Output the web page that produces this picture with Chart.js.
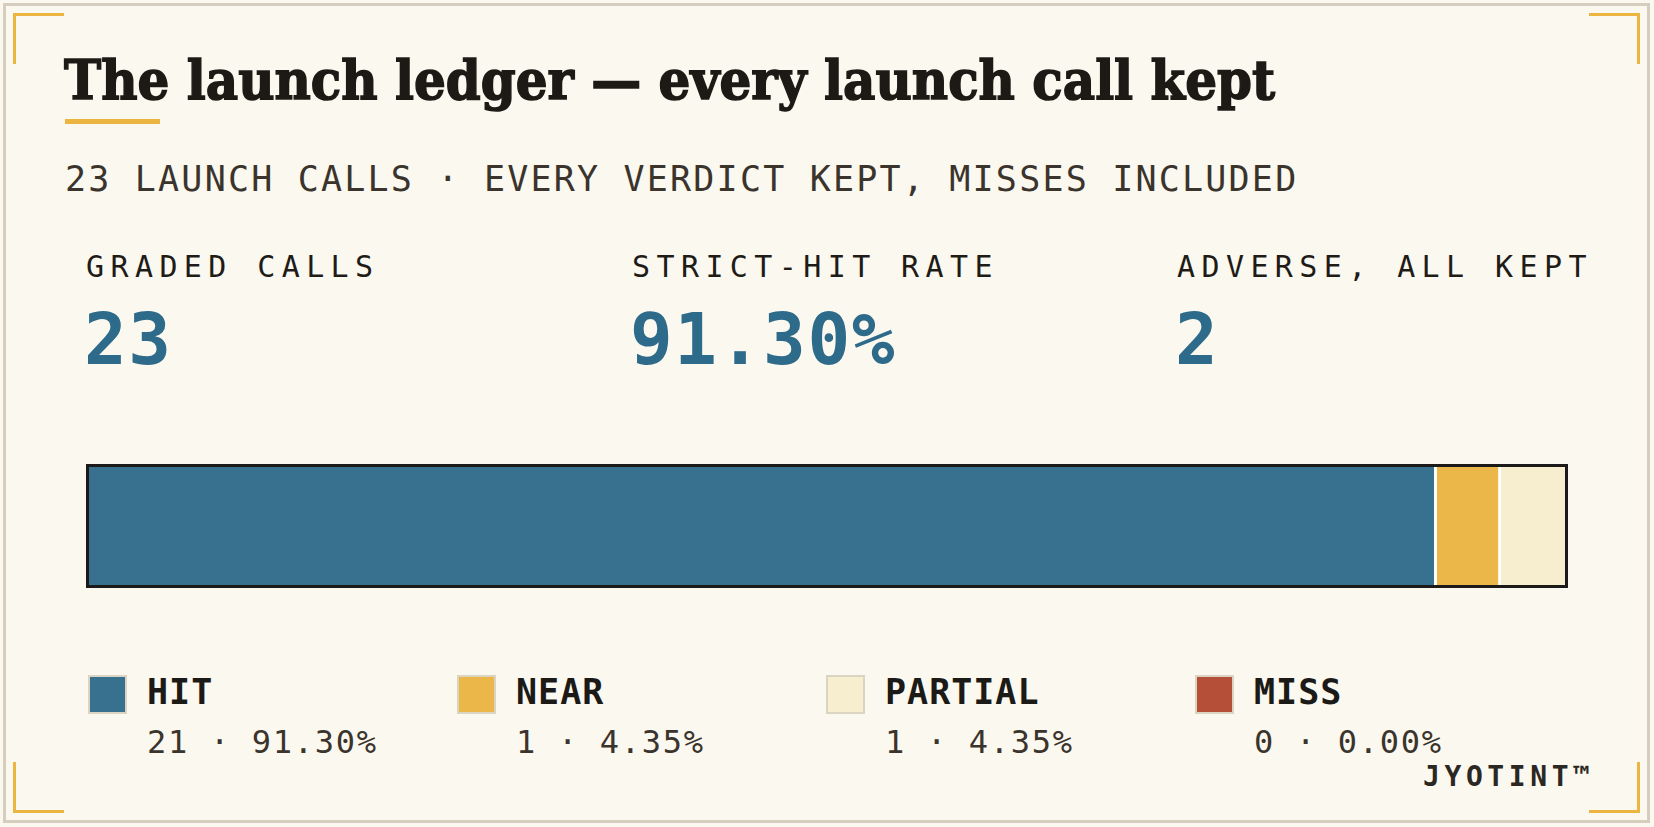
<!DOCTYPE html>
<html>
<head>
<meta charset="utf-8">
<title>The launch ledger</title>
<script src="https://cdn.jsdelivr.net/npm/chart.js@4.4.1/dist/chart.umd.min.js"></script>
<style>
    html, body { margin: 0; padding: 0; background: #fbf8ef; }
    #card { position: relative; width: 1654px; height: 827px; overflow: hidden; background: #fbf8ef; }
    .t { position: absolute; white-space: nowrap; line-height: 1; font-family: "DejaVu Sans Mono", monospace; }
    .frame { position: absolute; left: 3px; top: 3px; width: 1647px; height: 820px; box-sizing: border-box; border: 3px solid #d5cebf; }
    .br { position: absolute; width: 51px; height: 51px; box-sizing: border-box; border: 0 solid #ecb541; }
    .swatch { position: absolute; width: 39px; height: 39px; box-sizing: border-box; border: 2px solid #dcd4c2; }
    #bar-wrap { position: absolute; left: 86px; top: 464px; width: 1482px; height: 124px; }
</style>
</head>
<body>
<div id="card">
    <div class="frame"></div>
    <div class="br" style="left:13px;top:13px;border-top-width:3px;border-left-width:3px"></div>
    <div class="br" style="left:1589px;top:13px;border-top-width:3px;border-right-width:3px"></div>
    <div class="br" style="left:13px;top:762px;border-bottom-width:3px;border-left-width:3px"></div>
    <div class="br" style="left:1589px;top:762px;border-bottom-width:3px;border-right-width:3px"></div>
    <div style="position:absolute;left:65px;top:119px;width:95px;height:5px;background:#ecb541"></div>
    <div id="bar-wrap"><canvas id="ledgerBar" width="1482" height="124"></canvas></div>
</div>
<script>
// --- data ---
const title = 'The launch ledger \u2014 every launch call kept';
const subtitle = '23 LAUNCH CALLS \u00b7 EVERY VERDICT KEPT, MISSES INCLUDED';
const kpiLabels = ['GRADED CALLS', 'STRICT-HIT RATE', 'ADVERSE, ALL KEPT'];
const kpiValues = ['23', '91.30%', '2'];
const categories = ['HIT', 'NEAR', 'PARTIAL', 'MISS'];
const counts = [21, 1, 1, 0];
const percents = ['91.30%', '4.35%', '4.35%', '0.00%'];
const brand = 'JYOTINT\u2122';

const segColors = ['#37718f', '#ebb748', '#f7edcf', '#b64f37'];

const card = document.getElementById('card');

// put a text so its alphabetic baseline lands on y (DejaVu: ascent .928, descent .236)
function addText(str, x, baseline, size, opts) {
    opts = opts || {};
    const el = document.createElement('div');
    el.className = 't';
    el.textContent = str;
    el.style.left = x + 'px';
    el.style.top = (baseline - 0.846 * size) + 'px';
    el.style.fontSize = size + 'px';
    if (opts.family) el.style.fontFamily = opts.family;
    if (opts.bold) el.style.fontWeight = 'bold';
    if (opts.ls) el.style.letterSpacing = opts.ls + 'px';
    el.style.color = opts.color || '#1d1a16';
    card.appendChild(el);
    return el;
}

const titleEl = addText(title, 64, 99, 55, { family: '"DejaVu Serif", serif', bold: true, color: '#1d1a16' });
titleEl.style.webkitTextStroke = '1.6px #1d1a16';
titleEl.style.transformOrigin = '0 0';
// squeeze title to the width it has in the print
const w = titleEl.getBoundingClientRect().width;
titleEl.style.transform = 'scaleX(' + (1211 / w) + ')';

addText(subtitle, 65, 192, 35, { ls: 2.2, color: '#3a342d' });

const colX = [86, 632, 1177];
kpiLabels.forEach((lab, i) => {
    addText(lab, colX[i], 277, 30, { ls: 6.4, color: '#1f1b17' });
    addText(kpiValues[i], colX[i] - 2, 364, 71, { bold: true, ls: 1.6, color: '#2e6b8a' });
});

// legend
const total = counts.reduce((a, b) => a + b, 0);
const legX = [88, 457, 826, 1195];
categories.forEach((cat, i) => {
    const sw = document.createElement('div');
    sw.className = 'swatch';
    sw.style.left = legX[i] + 'px';
    sw.style.top = '675px';
    sw.style.background = segColors[i];
    card.appendChild(sw);
    addText(cat, legX[i] + 59, 705, 35, { bold: true, ls: 1, color: '#1c1a17' });
    addText(counts[i] + ' \u00b7 ' + percents[i], legX[i] + 59, 753, 32, { ls: 1.7, color: '#3a342d' });
});

addText(brand, 1423, 787, 28, { bold: true, ls: 4.6, color: '#2b2722' });

// --- stacked bar ---
const lastNonZero = counts.reduce((acc, v, i) => (v > 0 ? i : acc), 0);

const framePlugin = {
    id: 'frame',
    afterDraw(chart) {
        const ctx = chart.ctx;
        ctx.save();
        ctx.strokeStyle = '#1c1a18';
        ctx.lineWidth = 3;
        ctx.strokeRect(1.5, 1.5, chart.width - 3, chart.height - 3);
        ctx.restore();
    }
};

new Chart(document.getElementById('ledgerBar').getContext('2d'), {
    type: 'bar',
    data: {
        labels: ['calls'],
        datasets: categories.map((cat, i) => ({
            label: cat,
            data: [counts[i]],
            backgroundColor: segColors[i],
            borderColor: '#ffffff',
            borderWidth: { top: 0, bottom: 0, left: 0, right: i < lastNonZero && counts[i] > 0 ? 3 : 0 },
            borderSkipped: false,
            barPercentage: 1,
            categoryPercentage: 1
        }))
    },
    options: {
        indexAxis: 'y',
        responsive: false,
        devicePixelRatio: 1,
        animation: false,
        layout: { padding: 3 },
        scales: {
            x: { stacked: true, min: 0, max: total, display: false },
            y: { stacked: true, display: false }
        },
        plugins: {
            legend: { display: false },
            tooltip: { enabled: false }
        }
    },
    plugins: [framePlugin]
});
</script>
</body>
</html>
